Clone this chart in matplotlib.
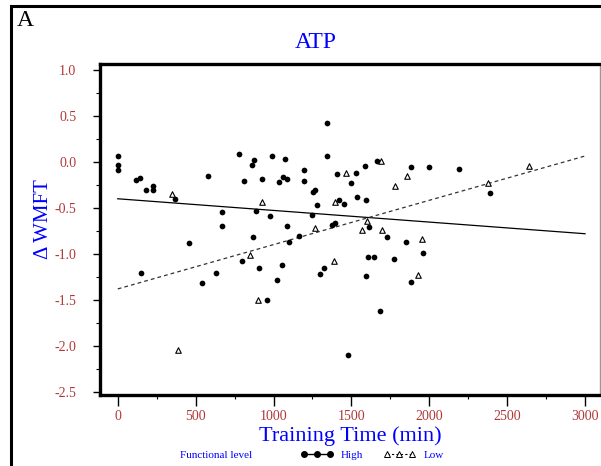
import numpy as np
import matplotlib
matplotlib.use('Agg')
import matplotlib.pyplot as plt
from matplotlib.lines import Line2D
from matplotlib.patches import Rectangle

plt.rcParams['font.family'] = ['Liberation Serif', 'DejaVu Serif']

# high functional level (filled circles)
high_time = [0, 0, 0, 117, 143, 182, 229, 229, 368, 582, 672, 672, 779, 813, 860, 873,
             886, 926, 978, 991, 1037, 1059, 1074, 1085, 1087, 1198, 1198, 1256, 1267,
             1280, 1248, 1378, 1395, 1346, 1342, 1408, 1421, 1453, 1496, 1530, 1586,
             1667, 1885, 1997, 2189, 2392, 1536, 1594, 1615, 1731, 1853, 1960, 1605,
             1648, 1774, 1324, 1301, 1594, 1883, 1684, 1476, 866, 1162, 1098, 456, 796,
             905, 1053, 152, 633, 543, 1021, 961]
high_wmft = [0.06, -0.03, -0.09, -0.20, -0.17, -0.30, -0.26, -0.30, -0.40, -0.15, -0.54,
             -0.70, 0.09, -0.21, -0.03, 0.025, -0.53, -0.19, -0.59, 0.065, -0.22, -0.16,
             0.036, -0.19, -0.70, -0.087, -0.21, -0.33, -0.31, -0.47, -0.58, -0.68, -0.66,
             0.42, 0.07, -0.13, -0.41, -0.46, -0.23, -0.12, -0.047, 0.011, -0.058, -0.054,
             -0.076, -0.34, -0.38, -0.41, -0.71, -0.82, -0.87, -0.99, -1.03, -1.03, -1.05,
             -1.15, -1.22, -1.24, -1.30, -1.62, -2.10, -0.82, -0.80, -0.87, -0.88, -1.08,
             -1.15, -1.12, -1.21, -1.21, -1.32, -1.28, -1.50]

# low functional level (open triangles)
low_time = [347, 928, 1267, 1395, 1464, 1690, 2643, 1859, 1780, 2380, 1598, 1697, 1566,
            1952, 1391, 1930, 851, 901, 387]
low_wmft = [-0.35, -0.43, -0.72, -0.44, -0.12, 0.014, -0.043, -0.15, -0.26, -0.23, -0.64,
            -0.74, -0.74, -0.84, -1.08, -1.23, -1.01, -1.50, -2.04]

# regression lines (end points)
fit_time = [0, 3000]
high_fit = [-0.40, -0.78]
low_fit = [-1.38, 0.065]

tick_col = '#b03838'
blue = '#0000ff'

fig = plt.figure(figsize=(6.01, 4.66), dpi=100)
ax = fig.add_axes([100 / 601, 71 / 466, 500 / 601, 331 / 466])

ax.plot(fit_time, high_fit, color='black', lw=0.9, zorder=2)
ax.plot(fit_time, low_fit, color='#333333', lw=0.9, dashes=(3, 2.5), zorder=2)
ax.scatter(high_time, high_wmft, s=17, color='black', zorder=3, linewidths=0)
ax.scatter(low_time, low_wmft, s=16, marker='^', facecolor='white',
           edgecolor='black', linewidths=0.8, zorder=4)

ax.set_xlim(-114, 3096)
ax.set_ylim(-2.533, 1.065)
ax.set_xticks(np.arange(0, 3001, 500))
ax.set_xticks(np.arange(250, 3000, 500), minor=True)
ax.set_yticks(np.arange(-2.5, 1.01, 0.5))
ax.set_yticks(np.arange(-2.25, 1.0, 0.5), minor=True)
ax.set_yticklabels(['%.1f' % v for v in np.arange(-2.5, 1.01, 0.5)])
ax.tick_params(axis='x', which='major', direction='out', length=8, width=1,
               pad=2.5, labelsize=10, labelcolor=tick_col)
ax.tick_params(axis='x', which='minor', direction='out', length=3, width=0.8)
ax.tick_params(axis='y', which='major', direction='out', length=5, width=1,
               pad=12, labelsize=10, labelcolor=tick_col)
ax.tick_params(axis='y', which='minor', direction='out', length=3, width=0.8)

for side in ['left', 'top', 'bottom']:
    ax.spines[side].set_linewidth(2.4)
ax.spines['right'].set_linewidth(1)
ax.spines['right'].set_color('#999999')

fig.text(316 / 601, 1 - 43 / 466, 'ATP', color=blue, fontsize=17, ha='center', va='center')
fig.text(17 / 601, 1 - 21 / 466, 'A', color='black', fontsize=17, ha='left', va='center')
fig.text(43 / 601, 1 - 219 / 466, 'Δ WMFT', color=blue, fontsize=15, rotation=90,
         ha='center', va='center')
fig.text(350 / 601, 1 - 436 / 466, 'Training Time (min)', color=blue, fontsize=16,
         ha='center', va='center')

# legend
fig.text(180 / 601, 1 - 455 / 466, 'Functional level', color=blue, fontsize=8,
         ha='left', va='center')
h_high = Line2D([], [], color='black', lw=1, marker='o', markersize=4)
h_low = Line2D([], [], color='black', lw=0.8, dashes=(2, 2), marker='^', markersize=4,
               markerfacecolor='white', markeredgecolor='black', markeredgewidth=0.7)
leg = fig.legend([h_high, h_low], ['High', 'Low'], ncol=2, numpoints=3, frameon=False,
                 loc='center left', bbox_to_anchor=(301 / 601, 1 - 455 / 466),
                 fontsize=8, handlelength=2.9, handletextpad=0.7, columnspacing=1.8,
                 borderpad=0, borderaxespad=0)
for t in leg.get_texts():
    t.set_color(blue)

# outer frame around the panel
fig.add_artist(Rectangle((11 / 601, -0.5), 2, 1.5 - 5.5 / 466, fill=False, lw=2.2,
                         edgecolor='black', transform=fig.transFigure, clip_on=False))

fig.savefig('out.png', dpi=100)
